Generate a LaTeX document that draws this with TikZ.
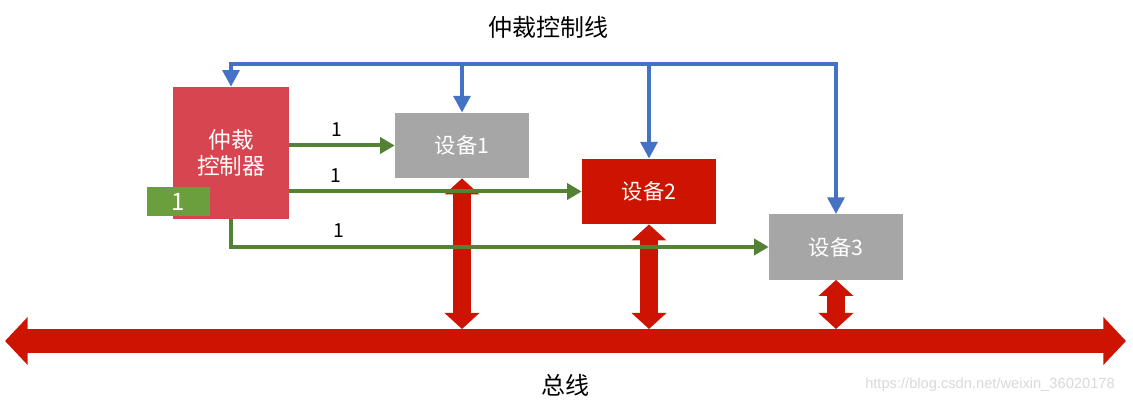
\documentclass[tikz,border=0pt]{standalone}
\usepackage{fontspec}
\setmainfont{Noto Sans CJK SC}
\newfontfamily\wmfont{Liberation Sans}
\usetikzlibrary{arrows.meta}
\definecolor{arbRed}{HTML}{D64550}
\definecolor{busRed}{HTML}{CD1400}
\definecolor{devGray}{HTML}{A6A6A6}
\definecolor{grantGreen}{HTML}{548235}
\definecolor{flagGreen}{HTML}{6B9F3E}
\definecolor{ctrlBlue}{HTML}{4472C4}

\begin{document}
\begin{tikzpicture}[x=0.75pt,y=-0.75pt]
  \tikzset{
    unit/.style={inner sep=0pt,text=white,font=\fontsize{16}{19}\selectfont,align=center},
    device/.style={unit,fill=devGray,minimum width=100.5pt,minimum height=49pt},
    ctrlline/.style={ctrlBlue,line width=3pt},
    grantline/.style={grantGreen,line width=3pt,-{Triangle[length=11pt,width=12pt]}},
    linkline/.style={busRed,line width=13.5pt,{Triangle[length=12pt,width=25.5pt]}-{Triangle[length=12pt,width=25.5pt]}},
    tag/.style={text=black,font=\fontsize{14.5}{16}\selectfont,above=2pt}
  }
  \fill[white] (0,0) rectangle (1133,406);
  \useasboundingbox (0,0) rectangle (1133,406);
  \node[font=\fontsize{18}{22}\selectfont] (title) at (548,27) {仲裁控制线};
  \node[font=\fontsize{18}{22}\selectfont] (busname) at (565,385) {总线};
  \node[font=\wmfont\fontsize{11}{13}\selectfont,text=gray!30] (mark) at (990,385) {https://blog.csdn.net/weixin\_36020178};
  \node[unit,fill=arbRed,minimum width=87pt,minimum height=99pt,font=\fontsize{17}{20}\selectfont] (arb) at (231,153) {仲裁\\控制器};
  \node[unit,fill=flagGreen,minimum width=47pt,minimum height=22pt,font=\fontsize{18}{20}\selectfont] (flag) at (178.5,201.5) {1};
  \node[device] (d1) at (462,145.5) {设备1};
  \node[device,fill=busRed] (d2) at (649,191.5) {设备2};
  \node[device] (d3) at (836,247) {设备3};
  \coordinate (busl) at (5,341);
  \coordinate (busr) at (1126,341);
  \coordinate (bustop) at (0,329);
  \coordinate (ctop) at (0,64);
  \draw[linkline,line width=18pt,{Triangle[length=17pt,width=35pt]}-{Triangle[length=17pt,width=35pt]}] (busl) -- (busr);
  \foreach \d in {d1,d2,d3}
    \draw[linkline] (\d.south) -- (\d.south |- bustop);
  \draw[grantline] (arb.east |- d1.west) -- (d1.west) node[tag,pos=0.45]{1};
  \draw[grantline] (arb.east |- d2.west) -- (d2.west) node[tag,pos=0.16]{1};
  \draw[grantline] (arb.south) |- (d3.west) node[tag,pos=0.6]{1};
  \draw[ctrlline,line cap=rect] (arb.north |- ctop) -- (d3.north |- ctop);
  \foreach \n in {arb,d1,d2,d3}
    \draw[ctrlline,-{Triangle[length=12.5pt,width=12.5pt]}] (\n.north |- ctop) -- (\n.north);
\end{tikzpicture}
\end{document}
